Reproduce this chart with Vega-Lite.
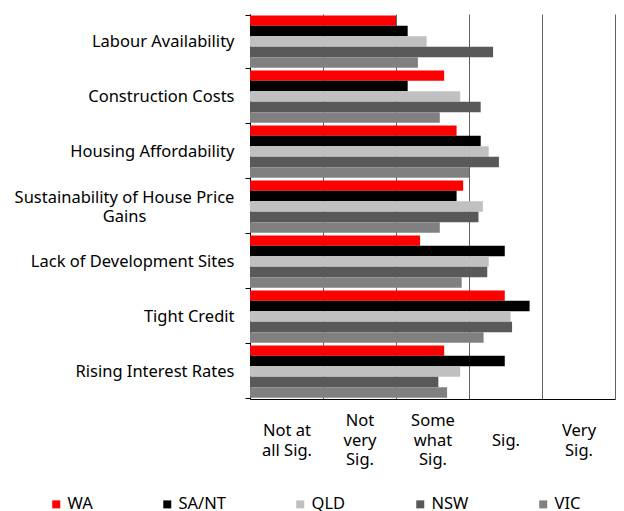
{
  "$schema": "https://vega.github.io/schema/vega-lite/v6.json",
  "width": 365,
  "height": 385,
  "autosize": "none",
  "padding": {"left": 250, "top": 14, "right": 9, "bottom": 112},
  "background": "white",
  "config": {
    "font": "Noto Sans",
    "view": {"stroke": null}
  },
  "data": {
    "values": [
      {"category": "Labour Availability", "state": "WA", "value": 2.00},
      {"category": "Labour Availability", "state": "SA/NT", "value": 2.16},
      {"category": "Labour Availability", "state": "QLD", "value": 2.42},
      {"category": "Labour Availability", "state": "NSW", "value": 3.33},
      {"category": "Labour Availability", "state": "VIC", "value": 2.30},
      {"category": "Construction Costs", "state": "WA", "value": 2.66},
      {"category": "Construction Costs", "state": "SA/NT", "value": 2.16},
      {"category": "Construction Costs", "state": "QLD", "value": 2.88},
      {"category": "Construction Costs", "state": "NSW", "value": 3.16},
      {"category": "Construction Costs", "state": "VIC", "value": 2.60},
      {"category": "Housing Affordability", "state": "WA", "value": 2.83},
      {"category": "Housing Affordability", "state": "SA/NT", "value": 3.16},
      {"category": "Housing Affordability", "state": "QLD", "value": 3.27},
      {"category": "Housing Affordability", "state": "NSW", "value": 3.41},
      {"category": "Housing Affordability", "state": "VIC", "value": 3.00},
      {"category": "Sustainability of House Price Gains", "state": "WA", "value": 2.92},
      {"category": "Sustainability of House Price Gains", "state": "SA/NT", "value": 2.83},
      {"category": "Sustainability of House Price Gains", "state": "QLD", "value": 3.19},
      {"category": "Sustainability of House Price Gains", "state": "NSW", "value": 3.13},
      {"category": "Sustainability of House Price Gains", "state": "VIC", "value": 2.60},
      {"category": "Lack of Development Sites", "state": "WA", "value": 2.33},
      {"category": "Lack of Development Sites", "state": "SA/NT", "value": 3.49},
      {"category": "Lack of Development Sites", "state": "QLD", "value": 3.27},
      {"category": "Lack of Development Sites", "state": "NSW", "value": 3.25},
      {"category": "Lack of Development Sites", "state": "VIC", "value": 2.90},
      {"category": "Tight Credit", "state": "WA", "value": 3.49},
      {"category": "Tight Credit", "state": "SA/NT", "value": 3.83},
      {"category": "Tight Credit", "state": "QLD", "value": 3.57},
      {"category": "Tight Credit", "state": "NSW", "value": 3.59},
      {"category": "Tight Credit", "state": "VIC", "value": 3.20},
      {"category": "Rising Interest Rates", "state": "WA", "value": 2.66},
      {"category": "Rising Interest Rates", "state": "SA/NT", "value": 3.49},
      {"category": "Rising Interest Rates", "state": "QLD", "value": 2.88},
      {"category": "Rising Interest Rates", "state": "NSW", "value": 2.58},
      {"category": "Rising Interest Rates", "state": "VIC", "value": 2.70}
    ]
  },
  "mark": {"type": "bar"},
  "encoding": {
    "y": {
      "field": "category",
      "type": "nominal",
      "sort": ["Labour Availability", "Construction Costs", "Housing Affordability", "Sustainability of House Price Gains", "Lack of Development Sites", "Tight Credit", "Rising Interest Rates"],
      "scale": {"paddingInner": 0.05, "paddingOuter": 0.025},
      "axis": {
        "title": null,
        "domainColor": "black",
        "tickColor": "black",
        "tickSize": 5,
        "tickBand": "extent",
        "labelFontSize": 16.5,
        "labelColor": "black",
        "labelPadding": {"condition": {"test": "indexof(datum.label, 'Sustainability') >= 0", "value": 121}, "value": 11},
        "labelAlign": {"condition": {"test": "indexof(datum.label, 'Sustainability') >= 0", "value": "center"}, "value": "right"},
        "labelOffset": {"condition": {"test": "indexof(datum.label, 'Sustainability') >= 0", "value": -9.5}, "value": 0},
        "labelExpr": "datum.label == 'Sustainability of House Price Gains' ? ['Sustainability of House Price', 'Gains'] : datum.label",
        "labelLineHeight": 19,
        "labelLimit": 300,
        "grid": false
      }
    },
    "yOffset": {
      "field": "state",
      "type": "nominal",
      "sort": ["WA", "SA/NT", "QLD", "NSW", "VIC"],
      "scale": {"paddingInner": 0, "paddingOuter": 0}
    },
    "x": {
      "field": "value",
      "type": "quantitative",
      "scale": {"domain": [0, 5], "nice": false},
      "axis": {
        "title": null,
        "values": [0, 0.5, 1, 1.5, 2, 2.5, 3, 3.5, 4, 4.5, 5],
        "domainColor": "black",
        "ticks": false,
        "tickSize": 0,
        "grid": true,
        "gridColor": "#606060",
        "gridOpacity": {"condition": {"test": "datum.value % 1 === 0", "value": 1}, "value": 0},
        "labelFontSize": 16.5,
        "labelColor": "black",
        "labelBaseline": "middle",
        "labelPadding": {"condition": [{"test": "datum.value == 1.5 || datum.value == 2.5", "value": 21.5}, {"test": "datum.value == 0.5 || datum.value == 4.5", "value": 31.5}], "value": 41},
        "labelLineHeight": 19.5,
        "labelFlush": false,
        "labelOverlap": false,
        "labelExpr": "datum.value == 0.5 ? ['Not at', 'all Sig.'] : datum.value == 1.5 ? ['Not', 'very', 'Sig.'] : datum.value == 2.5 ? ['Some', 'what', 'Sig.'] : datum.value == 3.5 ? 'Sig.' : datum.value == 4.5 ? ['Very', 'Sig.'] : ''"
      }
    },
    "color": {
      "field": "state",
      "type": "nominal",
      "scale": {"domain": ["WA", "SA/NT", "QLD", "NSW", "VIC"], "range": ["#FF0000", "#000000", "#C0C0C0", "#595959", "#808080"]},
      "legend": {
        "title": null,
        "orient": "none",
        "legendX": -202,
        "legendY": 482,
        "direction": "horizontal",
        "columns": 5,
        "padding": 0,
        "symbolType": "square",
        "symbolSize": 64,
        "symbolStrokeWidth": 0,
        "symbolOpacity": 1,
        "labelFontSize": 16.5,
        "labelColor": "black",
        "labelOffset": 3,
        "columnPadding": 66
      }
    }
  }
}
